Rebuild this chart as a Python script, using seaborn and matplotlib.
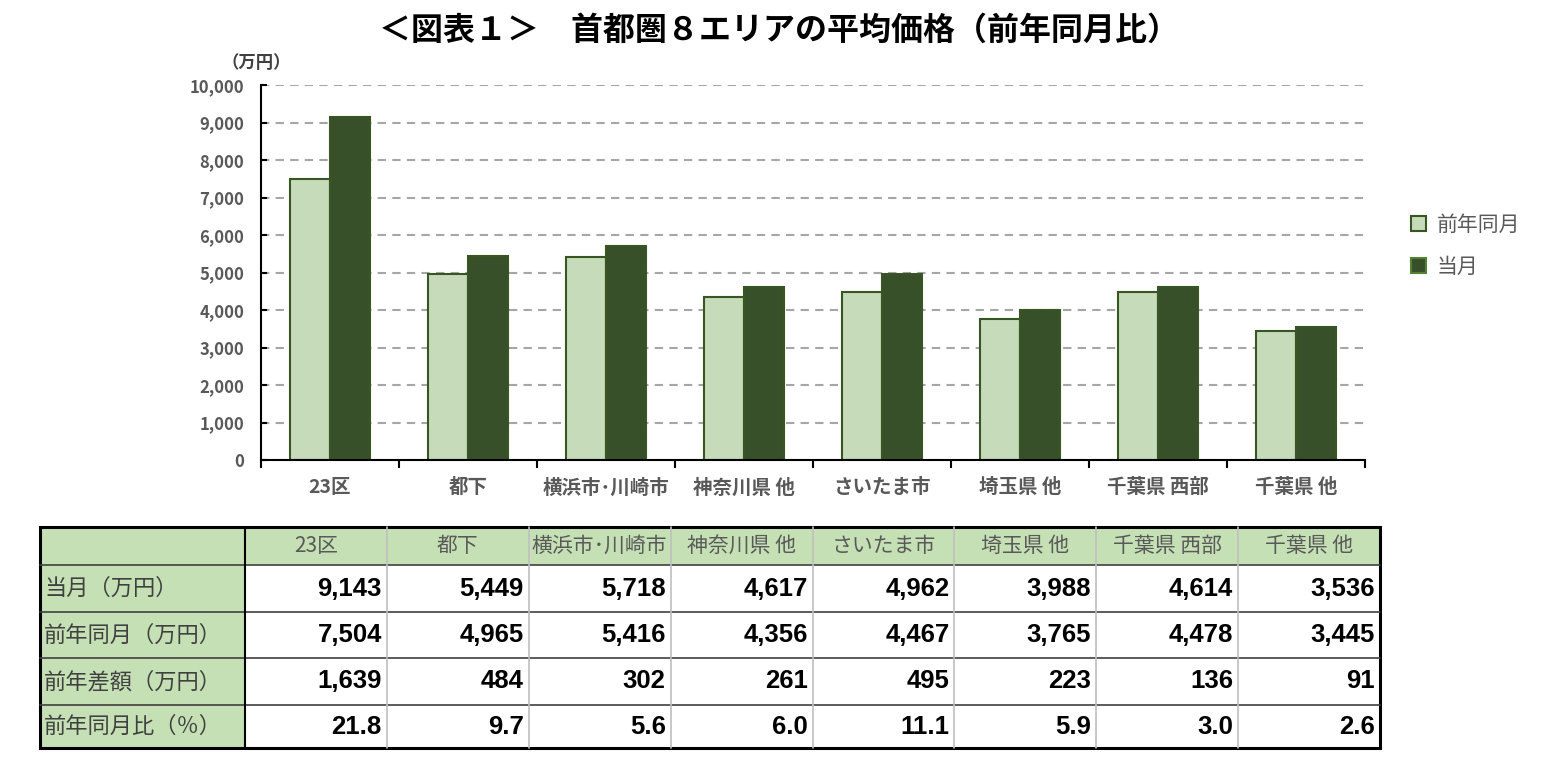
import pandas as pd
import seaborn as sns
import matplotlib.pyplot as plt
from matplotlib.patches import Rectangle
from matplotlib.ticker import FuncFormatter, FixedLocator

# データ
areas = ['23区', '都下', '横浜市･川崎市', '神奈川県 他', 'さいたま市', '埼玉県 他', '千葉県 西部', '千葉県 他']
current = [9143, 5449, 5718, 4617, 4962, 3988, 4614, 3536]
prev = [7504, 4965, 5416, 4356, 4467, 3765, 4478, 3445]
diff = [1639, 484, 302, 261, 495, 223, 136, 91]
ratio = [21.8, 9.7, 5.6, 6.0, 11.1, 5.9, 3.0, 2.6]
row_labels = ['当月（万円）', '前年同月（万円）', '前年差額（万円）', '前年同月比（％）']
series = ['前年同月', '当月']

LIGHT = '#C5E0B4'
DARK = '#375623'
GRAY = '#595959'

sns.set_theme(style='white')
plt.rcParams['font.family'] = ['Noto Sans CJK JP', 'DejaVu Sans']

df = pd.DataFrame({
    'area': areas * 2,
    'value': prev + current,
    'series': [series[0]] * len(areas) + [series[1]] * len(areas),
})

W, H = 1552, 762
fig = plt.figure(figsize=(W / 100, H / 100), dpi=100)

# グラフ部分
ax = fig.add_axes([261 / W, 1 - 460 / H, (1365 - 261) / W, (460 - 85) / H])
sns.barplot(data=df, x='area', y='value', hue='series', hue_order=series,
            palette=[LIGHT, DARK], width=0.58, gap=0, edgecolor=DARK,
            linewidth=1.5, ax=ax)
handles, labels = ax.get_legend_handles_labels()
ax.get_legend().remove()

ax.set_ylim(0, 10000)
ax.set_xlim(-0.5, len(areas) - 0.5)
ax.set_yticks(range(0, 10001, 1000))
ax.yaxis.set_major_formatter(FuncFormatter(lambda v, p: f'{int(v):,}'))
ax.yaxis.grid(True, linestyle=(0, (4, 3)), color='#A6A6A6', linewidth=1.5)
ax.set_axisbelow(True)
ax.set_xlabel('')
ax.set_ylabel('')
for s in ['top', 'right']:
    ax.spines[s].set_visible(False)
for s in ['left', 'bottom']:
    ax.spines[s].set_color('black')
    ax.spines[s].set_linewidth(1.5)

ax.tick_params(axis='x', which='major', length=0, pad=13)
ax.xaxis.set_minor_locator(FixedLocator([i - 0.5 for i in range(len(areas) + 1)]))
ax.tick_params(axis='x', which='minor', direction='out', length=6, width=1.5, color='black', bottom=True)
ax.tick_params(axis='y', direction='in', length=4, width=1.5, color='black', left=True, pad=12)
for t in ax.get_xticklabels():
    t.set_fontsize(14)
    t.set_fontweight('bold')
    t.set_color(GRAY)
for t in ax.get_yticklabels():
    t.set_fontsize(12)
    t.set_fontweight('bold')
    t.set_color(GRAY)

fig.text(256 / W, 1 - 63 / H, '（万円）', ha='center', va='center', fontsize=12.5, fontweight='bold', color='#404040')
fig.text(779 / W, 1 - 31 / H, '＜図表１＞　首都圏８エリアの平均価格（前年同月比）',
         ha='center', va='center', fontsize=23, fontweight='bold', color='black')

handles[1].set_edgecolor('#548235')
leg = fig.legend(handles, labels, loc='upper left', bbox_to_anchor=(1392 / W, 1 - 195 / H),
                 frameon=False, fontsize=15, labelcolor=GRAY, handlelength=0.75, handleheight=0.75,
                 handletextpad=0.5, labelspacing=0.95)

# 表部分
tx = fig.add_axes([0, 0, 1, 1])
tx.set_xlim(0, W)
tx.set_ylim(H, 0)
tx.axis('off')

col_x = [40, 245] + [245 + 141.875 * (i + 1) for i in range(len(areas))]
row_y = [527, 565, 612, 658, 705, 748]

# 背景
tx.add_patch(Rectangle((col_x[0], row_y[0]), col_x[-1] - col_x[0], row_y[1] - row_y[0], facecolor=LIGHT, edgecolor='none'))
tx.add_patch(Rectangle((col_x[0], row_y[1]), col_x[1] - col_x[0], row_y[-1] - row_y[1], facecolor=LIGHT, edgecolor='none'))

# 罫線
for y in row_y[1:-1]:
    tx.plot([col_x[0], col_x[-1]], [y, y], color='#404040', linewidth=1.2)
for x in col_x[2:-1]:
    tx.plot([x, x], [row_y[0], row_y[-1]], color='#BFBFBF', linewidth=1.2)
tx.plot([col_x[1], col_x[1]], [row_y[0], row_y[-1]], color='black', linewidth=1.5)
tx.add_patch(Rectangle((col_x[0], row_y[0]), col_x[-1] - col_x[0], row_y[-1] - row_y[0],
                       facecolor='none', edgecolor='black', linewidth=2.2))

# 見出し
for i, a in enumerate(areas):
    tx.text((col_x[i + 1] + col_x[i + 2]) / 2, (row_y[0] + row_y[1]) / 2, a,
            ha='center', va='center', fontsize=15, color=GRAY)

rows = [
    [f'{v:,}' for v in current],
    [f'{v:,}' for v in prev],
    [f'{v:,}' for v in diff],
    [f'{v:.1f}' for v in ratio],
]
for r, (lab, vals) in enumerate(zip(row_labels, rows)):
    yc = (row_y[r + 1] + row_y[r + 2]) / 2
    tx.text(col_x[0] + 4, yc, lab, ha='left', va='center', fontsize=16, color='#404040')
    for i, v in enumerate(vals):
        tx.text(col_x[i + 2] - 5, yc, v, ha='right', va='center', fontsize=18.5,
                fontweight='bold', color='black', family=['Liberation Sans', 'DejaVu Sans'])

fig.savefig('out.png', dpi=100)
